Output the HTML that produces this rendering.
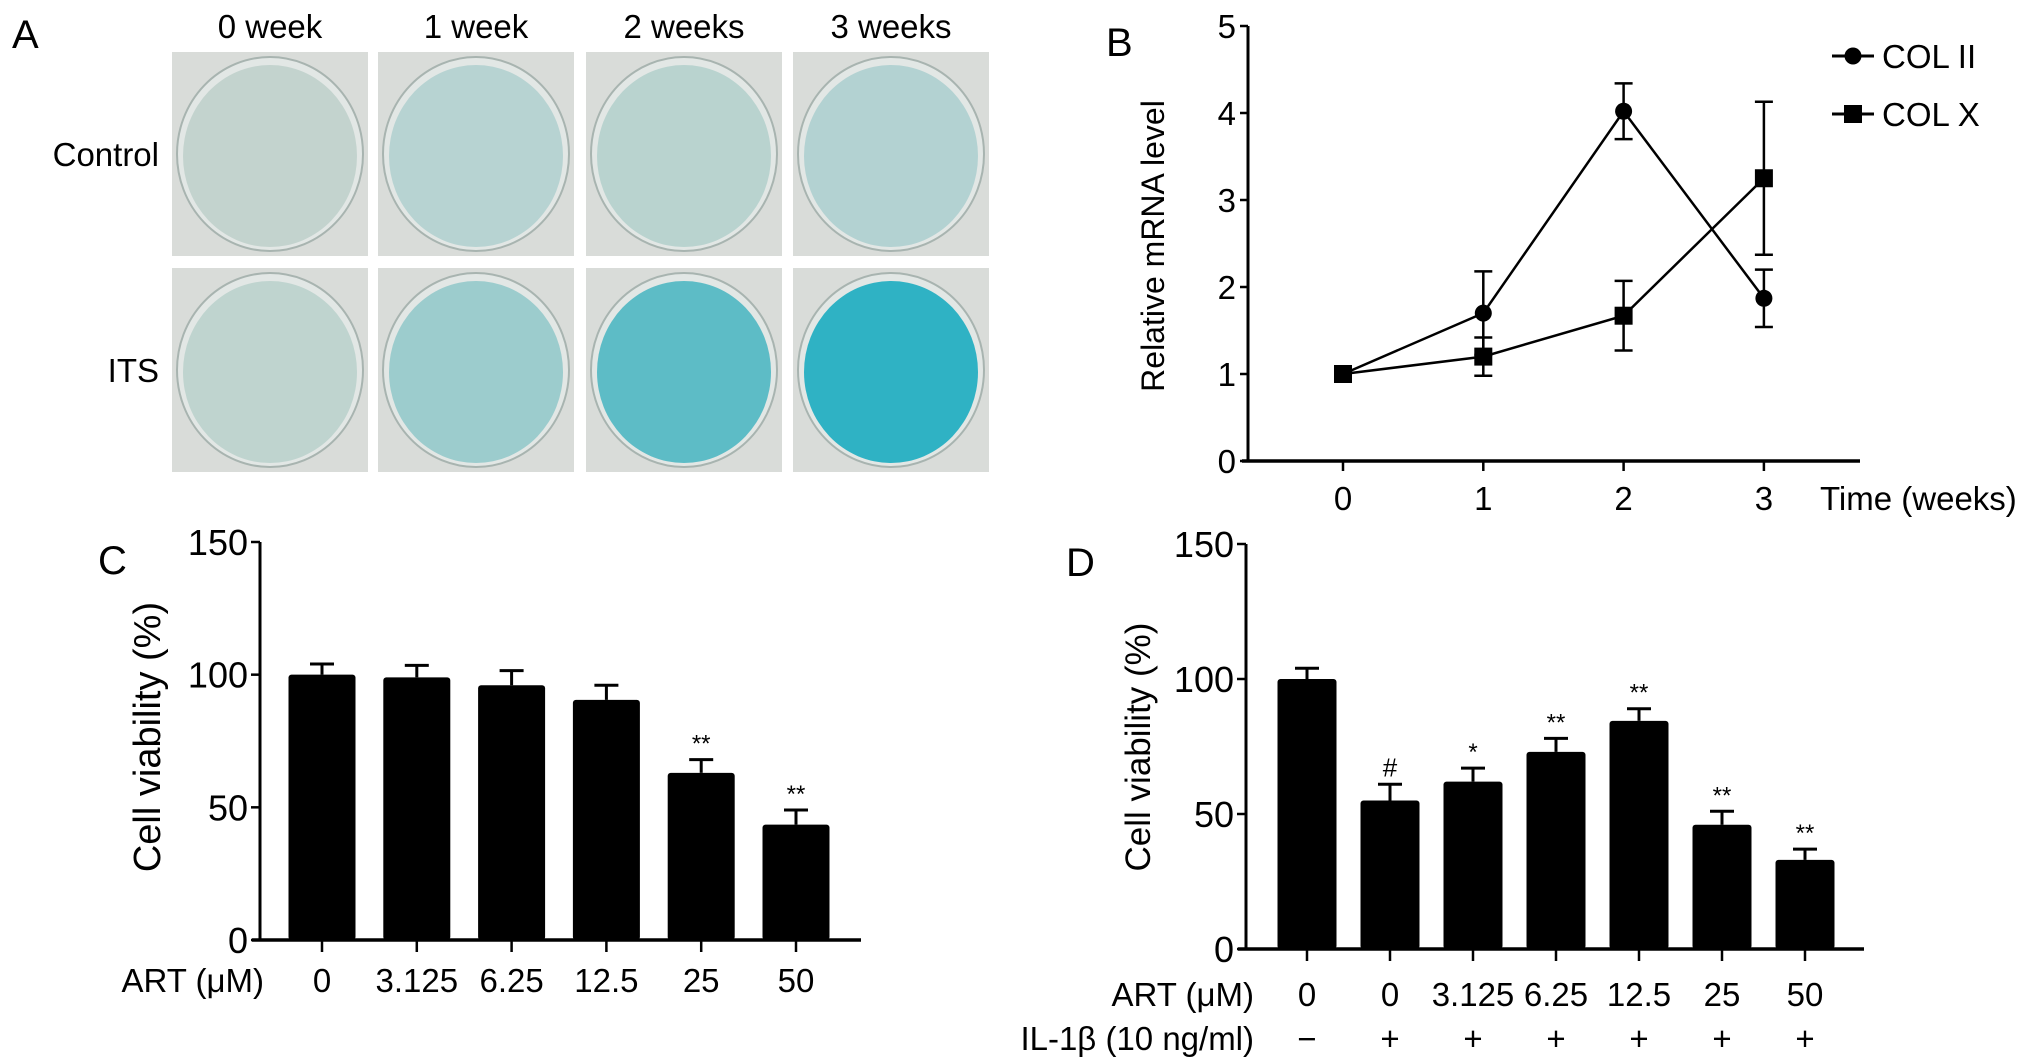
<!DOCTYPE html>
<html><head><meta charset="utf-8"><style>
body{margin:0;background:#fff;}
svg{display:block;font-family:"Liberation Sans",sans-serif;}
</style></head><body>
<svg id="fig" width="2032" height="1064" viewBox="0 0 2032 1064" xmlns="http://www.w3.org/2000/svg">
<g id="panelA">
<text x="12" y="48" font-size="40">A</text>
</g>
<g id="panelB">
<text x="1106" y="56" font-size="40">B</text>
</g>
<g id="panelC">
<text x="98" y="574" font-size="40">C</text>
</g>
<g id="panelD">
<text x="1066" y="576" font-size="40">D</text>
</g>
</svg>
<script>
// Panel A data
const weeks = ["0 week","1 week","2 weeks","3 weeks"];
const rowsA = ["Control","ITS"];
const stainControl = ["#c3d3ce","#b7d3d2","#b9d3cf","#b3d2d2"];
const stainITS = ["#bfd4cf","#9ccccd","#5dbcc6","#2fb2c4"];
// Panel B data
const timeTicks = [0,1,2,3];
const colII = [1,1.7,4.02,1.87];
const colIIerr = [0.04,0.48,0.32,0.33];
const colX = [1,1.2,1.67,3.25];
const colXerr = [0.04,0.22,0.4,0.88];
const yTicksB = [0,1,2,3,4,5];
// Panel C data
const catsC = ["0","3.125","6.25","12.5","25","50"];
const valsC = [100,99,96,90.5,63,43.5];
const errC = [4,4.5,5.5,5.5,5,5.5];
const sigC = ["","","","","**","**"];
// Panel D data
const catsD = ["0","0","3.125","6.25","12.5","25","50"];
const il1b = ["−","+","+","+","+","+","+"];
const valsD = [100,55,62,73,84.5,46,33];
const errD = [4,6,5,5,4.5,5,4];
const sigD = ["","#","*","**","**","**","**"];
const yTicksCD = [0,50,100,150];

const NS="http://www.w3.org/2000/svg";
function mk(parent,tag,attrs,txt){const e=document.createElementNS(NS,tag);for(const k in attrs)e.setAttribute(k,attrs[k]);if(txt!==undefined)e.textContent=txt;parent.appendChild(e);return e;}

// ---------- Panel A ----------
const A=document.getElementById('panelA');
const colX0=[172,378,586,793], colW=196, rowY=[52,268], rowH=204;
weeks.forEach((w,i)=>{
  const t=mk(A,'text',{x:colX0[i]+colW/2,y:38,'font-size':33,'text-anchor':'middle'},w);
  
  
});
rowsA.forEach((r,j)=>{
  const t=mk(A,'text',{x:159,y:rowY[j]+rowH/2+12,'font-size':33,'text-anchor':'end'},r);
  
  
  weeks.forEach((w,i)=>{
    const g=mk(A,'g',{});
    
    
    mk(g,'rect',{x:colX0[i],y:rowY[j],width:colW,height:rowH,fill:'#d9dcd9'});
    const fill=j===0?stainControl[i]:stainITS[i];
    mk(g,'ellipse',{cx:colX0[i]+colW/2,cy:rowY[j]+rowH/2,rx:colW/2-5,ry:rowH/2-5,fill:'#e2e7e5',stroke:'#a8b4b0','stroke-width':2});
    mk(g,'ellipse',{cx:colX0[i]+colW/2,cy:rowY[j]+rowH/2+2,rx:colW/2-11,ry:rowH/2-11,fill:fill});
  });
});

// ---------- Panel B ----------
const B=document.getElementById('panelB');
const bx0=1248,by0=461,byTop=26,bxEnd=1860;
const xB=v=>1343+v*140.3;
const yB=v=>by0-(v/5)*(by0-byTop);
mk(B,'line',{x1:bx0,y1:byTop,x2:bx0,y2:by0,stroke:'#000','stroke-width':3});
mk(B,'line',{x1:bx0-6,y1:by0,x2:bxEnd,y2:by0,stroke:'#000','stroke-width':3.5});
yTicksB.forEach(v=>{
  mk(B,'line',{x1:bx0-8,y1:yB(v),x2:bx0,y2:yB(v),stroke:'#000','stroke-width':2.5});
  const t=mk(B,'text',{x:bx0-12,y:yB(v)+12,'font-size':33,'text-anchor':'end'},String(v));
  
  
});
timeTicks.forEach(v=>{
  mk(B,'line',{x1:xB(v),y1:by0,x2:xB(v),y2:by0+10,stroke:'#000','stroke-width':2.5});
  const t=mk(B,'text',{x:xB(v),y:510,'font-size':33,'text-anchor':'middle'},String(v));
  
  
});
let tt=mk(B,'text',{x:1820,y:510,'font-size':33},'Time (weeks)');


tt=mk(B,'text',{x:1164,y:246,'font-size':32,'text-anchor':'middle',transform:'rotate(-90 1164 246)'},'Relative mRNA level');


function series(vals,errs,shape,name){
  const g=mk(B,'g',{});
  
  
  mk(g,'polyline',{points:vals.map((v,i)=>xB(timeTicks[i])+','+yB(v)).join(' '),fill:'none',stroke:'#000','stroke-width':2.5});
  vals.forEach((v,i)=>{
    const x=xB(timeTicks[i]);
    mk(g,'line',{x1:x,y1:yB(v+errs[i]),x2:x,y2:yB(v-errs[i]),stroke:'#000','stroke-width':2.5});
    mk(g,'line',{x1:x-9,y1:yB(v+errs[i]),x2:x+9,y2:yB(v+errs[i]),stroke:'#000','stroke-width':2.5});
    mk(g,'line',{x1:x-9,y1:yB(v-errs[i]),x2:x+9,y2:yB(v-errs[i]),stroke:'#000','stroke-width':2.5});
    const m=shape==='c'?mk(g,'circle',{cx:x,cy:yB(v),r:8.5,fill:'#000'}):mk(g,'rect',{x:x-9,y:yB(v)-9,width:18,height:18,fill:'#000'});
    
    
  });
}
series(colII,colIIerr,'c','series-col-ii');
series(colX,colXerr,'s','series-col-x');
[['COL II','c',56],['COL X','s',114]].forEach(([lab,sh,y])=>{
  const g=mk(B,'g',{});
  
  
  mk(g,'line',{x1:1832,y1:y,x2:1874,y2:y,stroke:'#000','stroke-width':3});
  if(sh==='c')mk(g,'circle',{cx:1853,cy:y,r:8.5,fill:'#000'});else mk(g,'rect',{x:1844,y:y-9,width:18,height:18,fill:'#000'});
  mk(g,'text',{x:1882,y:y+12,'font-size':33},lab);
});

// ---------- Bar panels ----------
function barPanel(P,ax,y0,yTop,xEnd,centers,bw,cats,vals,errs,sigs,labelY,artX,ytx,yty,ytSize,tickSize,extra){
  const yS=v=>y0-(v/150)*(y0-yTop);
  mk(P,'line',{x1:ax,y1:yTop,x2:ax,y2:y0,stroke:'#000','stroke-width':3});
  mk(P,'line',{x1:ax-8,y1:y0,x2:xEnd,y2:y0,stroke:'#000','stroke-width':3.5});
  yTicksCD.forEach(v=>{
    mk(P,'line',{x1:ax-9,y1:yS(v),x2:ax,y2:yS(v),stroke:'#000','stroke-width':2.5});
    const t=mk(P,'text',{x:ax-12,y:yS(v)+13,'font-size':tickSize,'text-anchor':'end'},String(v));
    
    
  });
  vals.forEach((v,i)=>{
    const x=centers[i];
    const r=mk(P,'rect',{x:x-bw/2,y:yS(v),width:bw,height:y0-yS(v),fill:'#000',rx:3});
    
    
    mk(P,'line',{x1:x,y1:yS(v),x2:x,y2:yS(v+errs[i]),stroke:'#000','stroke-width':3});
    mk(P,'line',{x1:x-12,y1:yS(v+errs[i]),x2:x+12,y2:yS(v+errs[i]),stroke:'#000','stroke-width':3});
    mk(P,'line',{x1:x,y1:y0,x2:x,y2:y0+12,stroke:'#000','stroke-width':2.5});
    if(sigs[i]){
      const s=mk(P,'text',{x:x,y:yS(v+errs[i])-8,'font-size':sigs[i]==='#'?26:24,'text-anchor':'middle'},sigs[i]);
      
      
    }
    const t=mk(P,'text',{x:x,y:labelY,'font-size':33,'text-anchor':'middle'},cats[i]);
    
    
  });
  let a=mk(P,'text',{x:artX,y:labelY,'font-size':33,'text-anchor':'end'},'ART (μM)');
  
  
  a=mk(P,'text',{x:ytx,y:yty,'font-size':ytSize,'text-anchor':'middle',transform:'rotate(-90 '+ytx+' '+yty+')'},'Cell viability (%)');
  
  
  if(extra)extra(P);
}
const centersC=catsC.map((c,i)=>322+i*94.8);
barPanel(document.getElementById('panelC'),260,940,542,861,centersC,67,catsC,valsC,errC,sigC,992,264,160,737,38,36);
const centersD=catsD.map((c,i)=>1307+i*83);
barPanel(document.getElementById('panelD'),1246,949,544,1864,centersD,59,catsD,valsD,errD,sigD,1006,1254,1150,747,35,36,P=>{
  il1b.forEach((s,i)=>{
    const t=mk(P,'text',{x:centersD[i],y:1050,'font-size':33,'text-anchor':'middle'},s);
    
    
  });
  const t=mk(P,'text',{x:1254,y:1050,'font-size':33,'text-anchor':'end'},'IL-1β (10 ng/ml)');
  
  
});
</script>
</body></html>
